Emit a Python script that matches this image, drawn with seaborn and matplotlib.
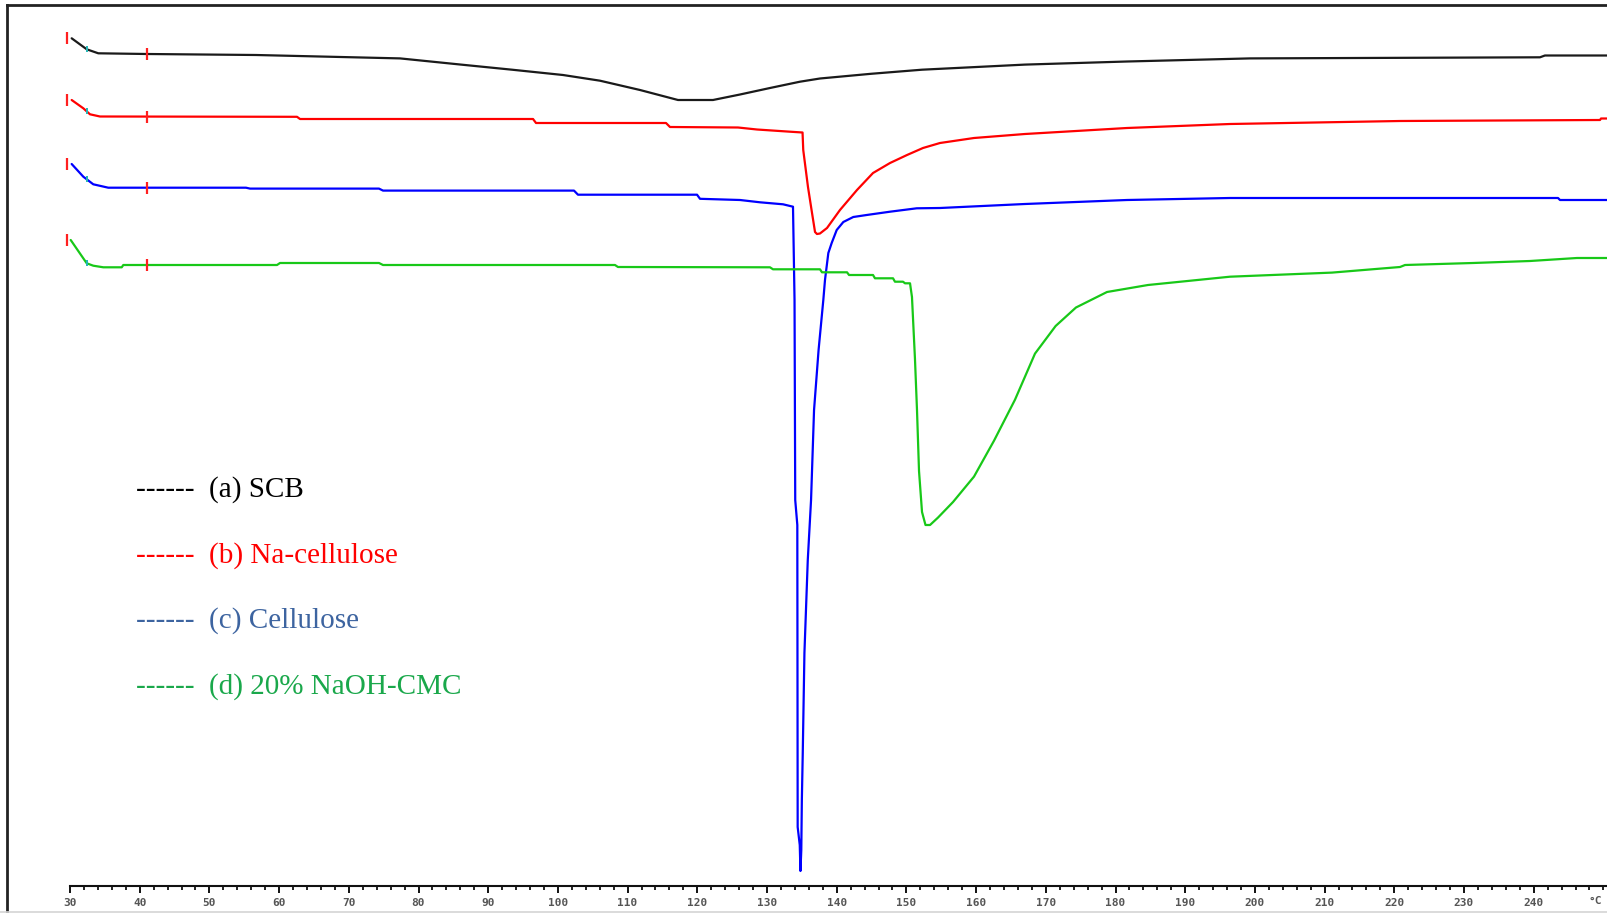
import numpy as np
import pandas as pd
import matplotlib
matplotlib.use("Agg")
import matplotlib.pyplot as plt
from matplotlib.lines import Line2D
import seaborn as sns

# DSC thermograms, stacked: temperature (°C) vs. heat-flow trace
# (arbitrary offset units, plotted increasing downward so endotherms point down)
scb_T = [30.24, 32.40, 34.06, 41.05, 56.69, 77.35, 86.10, 93.41, 100.73, 106.04,
         111.78, 117.23, 122.25, 126.13, 130.43, 134.73, 137.60, 144.92, 152.24,
         167.01, 181.65, 199.30, 240.90, 241.61, 250.5]
scb_hf = [38.3, 49.3, 53.3, 54.0, 55.0, 58.4, 64.6, 69.7, 75.0, 80.7,
          90.0, 100.0, 100.0, 94.5, 88.0, 81.7, 78.5, 73.8, 69.7,
          64.6, 61.5, 58.4, 57.3, 55.5, 55.5]

nacell_T = [30.24, 31.91, 32.87, 34.30, 62.57, 63.00, 96.43, 96.86, 115.51, 116.08,
            125.84, 128.56, 133.30, 135.10, 135.20, 135.88, 136.46, 136.89, 137.17,
            137.60, 138.61, 140.47, 142.91, 145.21, 147.65, 150.09, 152.38, 154.82,
            159.70, 167.01, 181.65, 196.43, 220.82, 249.51, 249.66, 250.5]
nacell_hf = [100.0, 108.3, 114.3, 116.5, 116.8, 119.0, 119.0, 123.0, 123.0, 127.0,
             127.5, 129.5, 131.7, 132.5, 150.0, 187.0, 213.0, 232.0, 234.0,
             233.5, 228.0, 210.0, 190.0, 173.0, 163.0, 155.0, 148.0, 143.0,
             138.0, 134.0, 128.0, 124.0, 121.0, 120.0, 118.5, 118.5]

cell_T = [30.24, 31.91, 33.34, 35.49, 55.25, 55.83, 74.33, 74.91, 102.31, 102.88,
          119.96, 120.39, 126.13, 129.00, 132.30, 133.73, 133.95, 134.05, 134.35,
          134.40, 134.70, 134.80, 134.92, 135.00, 135.13, 135.37, 135.85, 136.32,
          136.75, 137.40, 138.08, 138.32, 138.80, 139.28, 140.00, 140.95, 142.38,
          144.30, 147.65, 151.48, 154.82, 167.01, 181.65, 196.43, 243.49, 243.77,
          250.5]
cell_hf = [164.0, 176.7, 184.3, 187.7, 187.7, 188.6, 188.6, 190.6, 190.6, 194.7,
           194.7, 198.8, 200.0, 202.3, 204.3, 206.7, 300.0, 500.0, 525.0,
           827.0, 845.0, 871.0, 850.0, 800.0, 753.0, 653.0, 560.0, 500.0,
           410.0, 350.0, 300.0, 280.0, 253.0, 243.0, 230.0, 222.0, 217.0,
           215.0, 211.7, 208.3, 208.0, 204.0, 200.0, 198.0, 198.0, 200.0,
           200.0]

cmc_T = [30.10, 32.40, 33.34, 34.78, 37.42, 37.65, 59.70, 60.13, 74.33, 74.91,
         108.19, 108.62, 130.43, 130.86, 137.60, 137.89, 141.48, 141.77, 145.21,
         145.49, 148.08, 148.36, 149.51, 149.80, 150.52, 150.80, 151.23, 151.52,
         151.81, 152.24, 152.74, 153.39, 154.53, 156.69, 159.70, 162.57, 165.58,
         168.45, 171.41, 174.33, 178.78, 184.66, 196.43, 211.06, 220.82, 221.54,
         231.29, 239.47, 246.21, 250.5]
cmc_hf = [240.0, 263.3, 265.7, 267.3, 267.3, 265.0, 265.0, 263.0, 263.0, 265.0,
          265.0, 267.0, 267.3, 269.3, 269.3, 272.3, 272.3, 275.0, 275.0,
          278.3, 278.3, 281.7, 281.7, 283.3, 283.3, 297.0, 359.0, 410.0,
          471.0, 512.0, 525.0, 525.0, 517.6, 502.0, 476.6, 440.7, 399.7,
          353.6, 326.0, 307.5, 292.0, 285.0, 276.7, 272.6, 267.0, 265.0,
          263.0, 261.0, 258.0, 258.0]

samples = ["(a) SCB", "(b) Na-cellulose", "(c) Cellulose", "(d) 20% NaOH-CMC"]
line_colors = ["#1a1a1a", "#ff0000", "#0000ff", "#18c818"]
text_colors = ["#000000", "#ff0000", "#3d64a0", "#1aa84b"]

# Evaluation-range markers of the instrument software (°C)
mark_start = 29.6
mark_onset = 32.4
mark_end = 41.0

x_major = list(range(30, 250, 10))

series = [(scb_T, scb_hf), (nacell_T, nacell_hf), (cell_T, cell_hf), (cmc_T, cmc_hf)]
df = pd.concat(
    [pd.DataFrame({"T": t, "hf": h, "sample": s}) for (t, h), s in zip(series, samples)],
    ignore_index=True,
)

sns.set_theme(style="white")
plt.rcParams["font.family"] = ["DejaVu Sans"]

W, H = 1607, 913
fig = plt.figure(figsize=(W / 100, H / 100), dpi=100)
fig.patch.set_facecolor("white")
ax = fig.add_axes([7 / W, 2 / H, 1600 / W, 906 / H])
ax.set_facecolor("white")

sns.lineplot(data=df, x="T", y="hf", hue="sample", palette=dict(zip(samples, line_colors)),
             sort=False, estimator=None, legend=False, linewidth=1.6, ax=ax)

for (t, h), c in zip(series, line_colors):
    ax.plot([mark_start], [np.interp(mark_start, t, h)], marker="|", ms=8, mew=1.6,
            color="#ff2020", ls="none")
    ax.plot([mark_onset], [np.interp(mark_onset, t, h)], marker="|", ms=5, mew=1.4,
            color="#22b5b5", ls="none")
    ax.plot([mark_end], [np.interp(mark_end, t, h)], marker="|", ms=8, mew=1.6,
            color="#ff2020", ls="none")

ax.set_xlim(30 + (7 - 70) / 6.97, 30 + (1607 - 70) / 6.97)
ax.set_ylim(911, 5)

# Frame: left and top border, temperature scale drawn inside the plot
for side in ["left", "top"]:
    ax.spines[side].set_visible(True)
    ax.spines[side].set_color("#222222")
    ax.spines[side].set_linewidth(2.0)
ax.spines["right"].set_visible(False)
ax.spines["bottom"].set_position(("data", 886))
ax.spines["bottom"].set_bounds(30, 251)
ax.spines["bottom"].set_color("#111111")
ax.spines["bottom"].set_linewidth(1.5)

ax.set_xticks(x_major)
ax.set_xticklabels([str(v) for v in x_major], family="DejaVu Sans Mono",
                   fontsize=8, fontweight="bold", color="#555555")
ax.set_xticks(np.arange(30, 251, 2), minor=True)
ax.tick_params(axis="x", which="major", direction="out", length=5, width=1.4,
               color="#111111", pad=3.5, bottom=True)
ax.tick_params(axis="x", which="minor", direction="out", length=3, width=1.3,
               color="#111111", bottom=True)
ax.set_yticks([])
ax.set_xlabel("")
ax.set_ylabel("")
ax.grid(False)

ax.text(30 + (1602 - 70) / 6.97, 901, "°C", ha="right", va="center",
        family="DejaVu Sans Mono", fontsize=8, fontweight="bold", color="#555555")

fig.add_artist(Line2D([0, 1], [1.5 / H, 1.5 / H], color="#d4d4d4", lw=1.2))

legend_rows = [490, 555.5, 621, 687]
for label, col, yy in zip(samples, text_colors, legend_rows):
    ax.text(30 + (136 - 70) / 6.97, yy, "------  " + label, ha="left", va="center",
            family="Liberation Serif", fontsize=21, color=col)

fig.savefig("out.png", dpi=100, facecolor="white")
